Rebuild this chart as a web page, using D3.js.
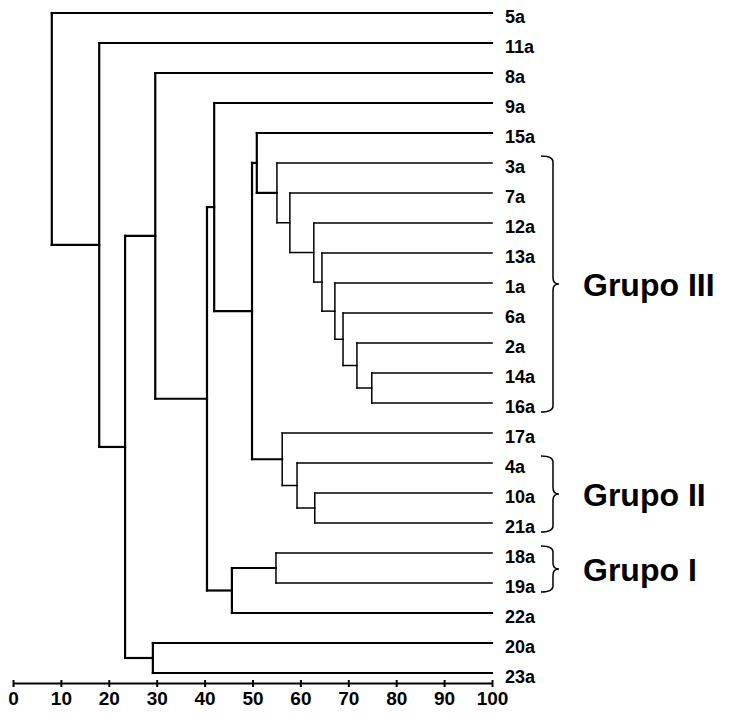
<!DOCTYPE html>
<html>
<head>
<meta charset="utf-8">
<script src="https://cdn.jsdelivr.net/npm/d3@7"></script>
<style>
  body { margin: 0; background: #fff; }
  svg { display: block; font-family: "Liberation Sans", Arial, sans-serif; }
</style>
</head>
<body>
<svg width="731" height="717"></svg>
<script>
// leaves, top to bottom
const leaves = ["5a", "11a", "8a", "9a", "15a", "3a", "7a", "12a", "13a", "1a", "6a",
  "2a", "14a", "16a", "17a", "4a", "10a", "21a", "18a", "19a", "22a", "20a", "23a"];

// merges: node id, upper child, lower child, similarity level
const mergeIds   = ["q", "p", "o", "n", "m", "l", "k", "j", "i", "t", "s", "r", "h", "g",
  "u", "f", "e", "c", "d", "b", "a", "root"];
const mergeUpper = ["14a", "2a", "6a", "1a", "13a", "12a", "7a", "3a", "15a", "10a", "4a", "17a", "i", "9a",
  "18a", "u", "g", "8a", "20a", "c", "11a", "5a"];
const mergeLower = ["16a", "q", "p", "o", "n", "m", "l", "k", "j", "21a", "t", "s", "r", "h",
  "19a", "22a", "f", "e", "23a", "d", "b", "a"];
const mergeLevel = [74.9, 71.8, 68.9, 67.2, 64.5, 62.8, 57.8, 55.1, 50.9, 63.0, 59.3, 56.2, 49.9, 42.0,
  54.9, 45.7, 40.5, 29.7, 29.2, 23.4, 18.0, 8.1];

const ticks = [0, 10, 20, 30, 40, 50, 60, 70, 80, 90, 100];

const groupNames = ["Grupo III", "Grupo II", "Grupo I"];
const groupFirst = ["3a", "4a", "18a"];
const groupLast  = ["16a", "21a", "19a"];

// build nested tree from merge table
const nodes = {};
leaves.forEach(l => { nodes[l] = { name: l, level: 100 }; });
mergeIds.forEach((id, i) => {
  nodes[id] = { name: id, level: mergeLevel[i], children: [nodes[mergeUpper[i]], nodes[mergeLower[i]]] };
});

const root = d3.hierarchy(nodes.root);
// 30px per leaf; cluster pads half a step at each end
d3.cluster().size([30 * leaves.length, 1]).separation(() => 1)(root);

const x = d3.scaleLinear().domain([0, 100]).range([13, 492]);
const yOf = d => d.x - 2;

const svg = d3.select('svg');
svg.append('rect').attr('width', 731).attr('height', 717).attr('fill', '#fff');

const tree = svg.append('g')
    .attr('fill', 'none')
    .attr('stroke', '#000')
    .attr('stroke-linecap', 'square');

const lw = level => level < 52 ? 2.2 : 1.5;

const inner = root.descendants().filter(d => d.children);

// vertical joins
tree.selectAll('.v')
  .data(inner)
  .enter()
  .append('line')
  .attr('x1', d => x(d.data.level))
  .attr('x2', d => x(d.data.level))
  .attr('y1', d => yOf(d.children[0]))
  .attr('y2', d => yOf(d.children[d.children.length - 1]))
  .attr('stroke-width', d => lw(d.data.level));

// horizontal branches
tree.selectAll('.h')
  .data(root.descendants().filter(d => d.parent))
  .enter()
  .append('line')
  .attr('x1', d => x(d.parent.data.level))
  .attr('x2', d => x(d.data.level))
  .attr('y1', yOf)
  .attr('y2', yOf)
  .attr('stroke-width', d => lw(d.parent.data.level));

// leaf labels
const leafNodes = root.leaves();
svg.selectAll('.leaf')
  .data(leafNodes)
  .enter()
  .append('text')
  .attr('x', 505)
  .attr('y', d => yOf(d) + 10)
  .style('font-size', '18px')
  .style('font-weight', 'bold')
  .text(d => d.data.name);

// axis
const axis = svg.append('g')
    .attr('transform', 'translate(0, 683)')
    .call(d3.axisBottom(x).tickValues(ticks).tickSize(4).tickSizeOuter(0).tickFormat(d3.format('d')));

axis.select('.domain').attr('stroke-width', 2);
axis.selectAll('.tick line').attr('y1', -3).attr('y2', 4).attr('stroke-width', 2);
axis.selectAll('.tick text')
  .attr('y', 9)
  .attr('dy', '0.71em')
  .attr('fill', '#000')
  .style('font-size', '19px')
  .style('font-weight', 'bold')
  .style('font-family', '"Liberation Sans", Arial, sans-serif');

// group braces and labels
const leafY = {};
leafNodes.forEach(d => { leafY[d.data.name] = yOf(d); });

const brace = (y0, y1) => {
  const x0 = 541, x1 = 553, tip = 559, r = 6;
  const ym = (y0 + y1) / 2;
  return `M${x0},${y0} Q${x1},${y0} ${x1},${y0 + r} L${x1},${ym - r} Q${x1},${ym} ${tip},${ym}` +
    ` Q${x1},${ym} ${x1},${ym + r} L${x1},${y1 - r} Q${x1},${y1} ${x0},${y1}`;
};

groupNames.forEach((g, i) => {
  const y0 = leafY[groupFirst[i]] - 7;
  const y1 = leafY[groupLast[i]] + 9;
  svg.append('path')
    .attr('d', brace(y0, y1))
    .attr('fill', 'none')
    .attr('stroke', '#000')
    .attr('stroke-width', 1.5);
  svg.append('text')
    .attr('x', 583)
    .attr('y', (y0 + y1) / 2 + 12)
    .style('font-size', '32px')
    .style('font-weight', 'bold')
    .text(g);
});
</script>
</body>
</html>
